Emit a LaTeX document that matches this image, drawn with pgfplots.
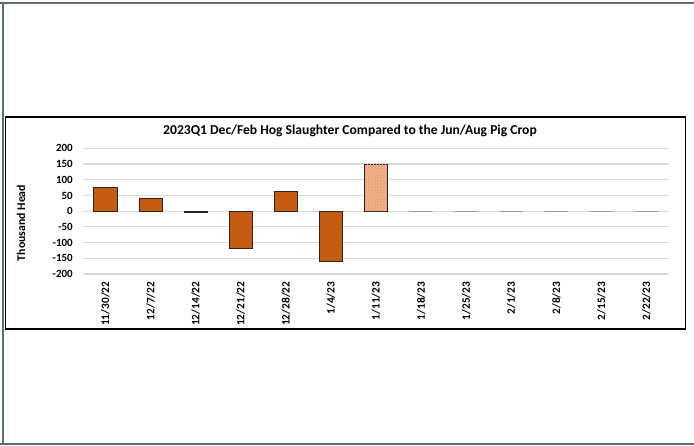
\documentclass[border=0pt]{standalone}
\usepackage{fontspec}
\setmainfont{Carlito}
\usepackage{pgfplots}
\pgfplotsset{compat=1.18}
\usetikzlibrary{patterns}
\definecolor{barorange}{HTML}{C55A11}
\definecolor{peach}{HTML}{EBA67A}
\definecolor{peachlight}{HTML}{F6CDAE}
\definecolor{gridgray}{HTML}{D9D9D9}
\definecolor{framegray}{HTML}{5F6B78}
\begin{document}
\begin{tikzpicture}[x=1pt,y=1pt]
\useasboundingbox (0,0) rectangle (694,445);
\draw[framegray, line width=2pt] (0,441.5) -- (694,441.5);
\draw[framegray, line width=2pt] (3,441.5) -- (3,1);
\draw[framegray, line width=2pt] (0,1) -- (694,1);
\draw[black, line width=1.3pt, fill=white] (5.5,116) rectangle (685.5,328);
\begin{axis}[
  at={(83pt,171pt)}, anchor=south west,
  scale only axis, width=586pt, height=125.7pt,
  xmin=-0.5, xmax=12.5, ymin=-200, ymax=200,
  axis line style={draw=none},
  major tick length=0pt,
  ytick={-200,-150,-100,-50,0,50,100,150,200},
  yticklabels={-200,-150,-100,-50,0,50,100,150,200},
  xtick={0,1,2,3,4,5,6,7,8,9,10,11,12},
  xticklabels={11/30/22,12/7/22,12/14/22,12/21/22,12/28/22,1/4/23,1/11/23,1/18/23,1/25/23,2/1/23,2/8/23,2/15/23,2/22/23},
  ymajorgrids, grid style={gridgray, line width=1.2pt},
  yticklabel style={font=\bfseries\fontsize{11}{13}\selectfont, inner sep=0pt, anchor=east},
  yticklabel shift=10pt,
  xticklabel style={font=\bfseries\fontsize{11.3}{13}\selectfont, inner sep=0pt, rotate=90, anchor=east},
  xticklabel shift=7.5pt,
  clip=false,
]
\addplot[ybar, bar shift=0pt, bar width=23.3pt, fill=barorange, draw=black!85, line width=0.8pt]
  coordinates {(0,75) (1,42) (2,-5) (3,-118) (4,63) (5,-159)};
\addplot[ybar, bar shift=0pt, bar width=23.3pt, fill=peach, draw=black!85, line width=0.8pt]
  coordinates {(6,149)};
\addplot[ybar, bar shift=0pt, bar width=20pt, draw=none, pattern=crosshatch dots, pattern color=peachlight]
  coordinates {(6,148)};
\addplot[ybar, bar shift=0pt, bar width=23.3pt, fill=none, draw=gray!80, line width=0.8pt]
  coordinates {(7,0) (8,0) (9,0) (10,0) (11,0) (12,0)};
\end{axis}
\node at (350,314) {\bfseries\fontsize{13.6}{16}\selectfont 2023Q1 Dec/Feb Hog Slaughter Compared to the Jun/Aug Pig Crop};
\node[rotate=90] at (21,222) {\bfseries\fontsize{11.8}{14}\selectfont Thousand Head};
\end{tikzpicture}
\end{document}
